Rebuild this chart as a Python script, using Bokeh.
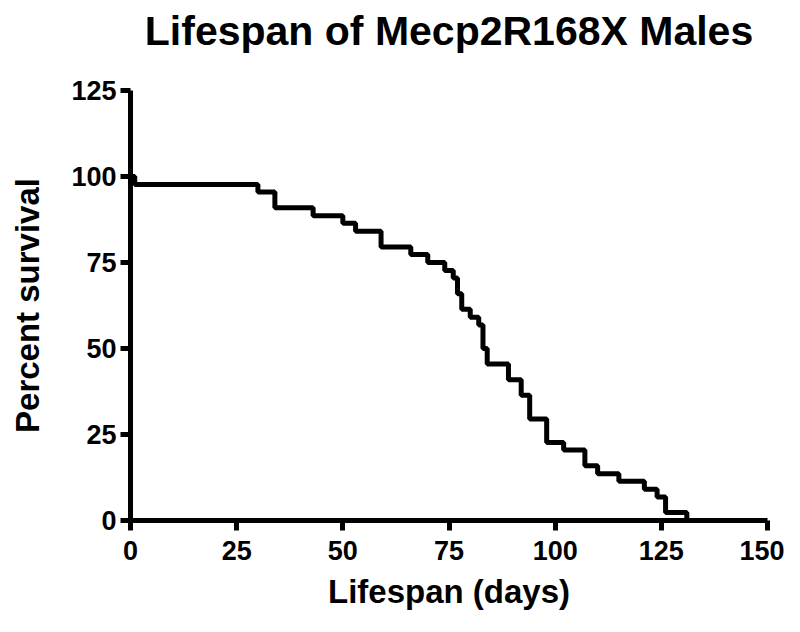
from bokeh.plotting import figure
from bokeh.models import FixedTicker, Range1d, Title
from bokeh.embed import file_html
from bokeh.resources import INLINE

# Kaplan-Meier survival steps (day of event, percent surviving after it)
days = [0, 1, 30, 34, 43, 50, 53, 59, 66, 70, 74, 76, 77, 78, 80, 82, 83, 84,
        89, 92, 94, 98, 102, 107, 110, 115, 121, 124, 126, 131]
survival = [100, 97.7, 95.5, 90.9, 88.6, 86.4, 84.1, 79.5, 77.3, 75.0, 72.7,
            70.5, 65.9, 61.4, 59.1, 56.8, 50.0, 45.5, 40.9, 36.4, 29.5, 22.7,
            20.5, 15.9, 13.6, 11.4, 9.1, 6.8, 2.3, 0]

x_ticks = [0, 25, 50, 75, 100, 125, 150]
y_ticks = [0, 25, 50, 75, 100, 125]

FONT = "Liberation Sans"

p = figure(width=784, height=616, output_backend="svg", toolbar_location=None,
           x_range=Range1d(0, 150), y_range=Range1d(0, 125),
           min_border_left=130, min_border_right=17,
           min_border_top=90, min_border_bottom=96)

# spacer between title and plot area
p.add_layout(Title(text=" ", text_font_size="31px", standoff=0), "above")
p.add_layout(Title(text="Lifespan of Mecp2R168X Males", text_font=FONT,
                   text_font_size="41px", text_font_style="bold",
                   align="center", text_color="black", standoff=0), "above")

p.step(days, survival, mode="after", line_width=5, line_color="black")

p.outline_line_color = None
p.xgrid.visible = False
p.ygrid.visible = False

for ax, ticks in ((p.xaxis, x_ticks), (p.yaxis, y_ticks)):
    ax.ticker = FixedTicker(ticks=ticks)
    ax.minor_tick_line_color = None
    ax.axis_line_width = 5
    ax.axis_line_color = "black"
    ax.major_tick_line_width = 5
    ax.major_tick_line_color = "black"
    ax.major_tick_out = 10
    ax.major_tick_in = 0
    ax.major_label_text_font = FONT
    ax.major_label_text_font_style = "bold"
    ax.major_label_text_font_size = "27px"
    ax.major_label_text_color = "black"
    ax.axis_label_text_font = FONT
    ax.axis_label_text_font_style = "bold"
    ax.axis_label_text_font_size = "33px"
    ax.axis_label_text_color = "black"

p.xaxis.axis_label = "Lifespan (days)"
p.yaxis.axis_label = "Percent survival"
p.xaxis.major_label_standoff = 10
p.yaxis.major_label_standoff = 4
p.xaxis.axis_label_standoff = 10
p.yaxis.axis_label_standoff = 22

open("out.html", "w").write(file_html(p, INLINE))
